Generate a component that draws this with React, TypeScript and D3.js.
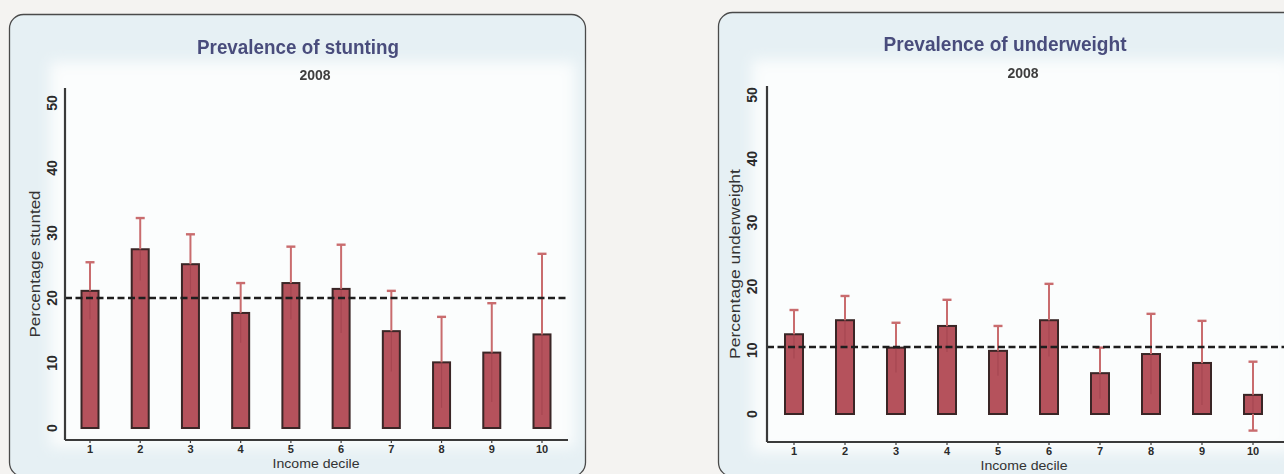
import React from "react";
import * as d3 from "d3";

const deciles = ["1", "2", "3", "4", "5", "6", "7", "8", "9", "10"];
const yTicks = [0, 10, 20, 30, 40, 50];

const stuntingValues = [21.1, 27.5, 25.2, 17.7, 22.3, 21.4, 14.9, 10.1, 11.6, 14.4];
const stuntingUpper = [25.5, 32.3, 29.8, 22.3, 27.9, 28.2, 21.1, 17.1, 19.2, 26.8];
const stuntingLower = [16.7, 22.7, 20.6, 13.1, 16.7, 14.6, 8.7, 3.1, 4.0, 2.0];
const stuntingRef = 20;

const underweightValues = [12.5, 14.7, 10.4, 13.8, 9.9, 14.7, 6.4, 9.4, 8.0, 3.0];
const underweightUpper = [16.3, 18.5, 14.3, 17.9, 13.8, 20.4, 10.4, 15.7, 14.6, 8.2];
const underweightLower = [8.7, 10.9, 6.5, 9.7, 6.0, 9.0, 2.4, 3.1, 1.4, -2.6];
const underweightRef = 10.5;

type PanelProps = {
  title: string;
  subtitle: string;
  yLabel: string;
  values: number[];
  upper: number[];
  lower: number[];
  refValue: number;
  box: { x: number; y: number; w: number; h: number };
  axisX: number;
  axisRight: number;
  axisTop: number;
  axisBottom: number;
  y0: number;
  y50: number;
  xFirst: number;
  xLast: number;
  barW: number;
  titleX: number;
  titleY: number;
  subX: number;
  subY: number;
  tickLabelX: number;
  yLabelX: number;
  yLabelLen: number;
  xLabelX: number;
  xLabelY: number;
  xTickY: number;
  titleLen: number;
  innerRect: { x: number; y: number; w: number; h: number };
  id: string;
};

const FONT = "'Liberation Sans', Arial, sans-serif";

function Panel(p: PanelProps) {
  const y = d3.scaleLinear().domain([0, 50]).range([p.y0, p.y50]);
  const x = d3.scalePoint<string>().domain(deciles).range([p.xFirst, p.xLast]);
  const midY = (p.axisTop + p.axisBottom) / 2;
  const cap = 4.5;
  return (
    <g>
      <rect x={p.box.x} y={p.box.y} width={p.box.w} height={p.box.h} rx={14} ry={14}
        fill="#e6f0f4" stroke="#4a4a4a" strokeWidth={1.3} />
      <defs>
        <filter id={`blur-${p.id}`} x="-10%" y="-10%" width="120%" height="120%">
          <feGaussianBlur stdDeviation="7" />
        </filter>
      </defs>
      <rect x={p.innerRect.x} y={p.innerRect.y} width={p.innerRect.w} height={p.innerRect.h}
        fill="#fbfdfd" filter={`url(#blur-${p.id})`} />
      <text x={p.titleX} y={p.titleY} textAnchor="middle" fontFamily={FONT}
        fontSize={20} fontWeight="bold" fill="#3c3f72" textLength={p.titleLen}
        lengthAdjust="spacingAndGlyphs" opacity={0.92}>{p.title}</text>
      <text x={p.subX} y={p.subY} textAnchor="middle" fontFamily={FONT}
        fontSize={14} fontWeight="bold" fill="#2a2a2a" opacity={0.9}>{p.subtitle}</text>

      {yTicks.map((t) => (
        <text key={t} transform={`translate(${p.tickLabelX},${y(t)}) rotate(-90)`} textAnchor="middle"
          dominantBaseline="central" fontFamily={FONT} fontSize={14}
          fontWeight="bold" fill="#2a2a2a">{t}</text>
      ))}
      <text transform={`translate(${p.yLabelX},${midY}) rotate(-90)`} textAnchor="middle"
        dominantBaseline="central" fontFamily={FONT} fontSize={14}
        fill="#333" textLength={p.yLabelLen} lengthAdjust="spacingAndGlyphs">{p.yLabel}</text>

      {p.values.map((v, i) => {
        const cx = x(deciles[i])!;
        const top = y(Math.max(v, 0));
        const bot = y(0);
        return (
          <rect key={i} x={cx - p.barW / 2} y={top} width={p.barW} height={bot - top}
            fill="#b5525c" stroke="#3a2626" strokeWidth={2} />
        );
      })}

      {p.values.map((v, i) => {
        const cx = x(deciles[i])!;
        const yu = y(p.upper[i]);
        const yl = y(p.lower[i]);
        const outsideLow = p.lower[i] < 0;
        return (
          <g key={i}>
            <line x1={cx} x2={cx} y1={y(v)} y2={yu} stroke="#c96c6e" strokeWidth={2} />
            <line x1={cx} x2={cx} y1={y(v)} y2={outsideLow ? y(0) : yl} stroke="#9c3f4a" strokeWidth={1.2} opacity={0.6} />
            <line x1={cx - cap} x2={cx + cap} y1={yu} y2={yu} stroke="#c96c6e" strokeWidth={2.4} />
            {outsideLow && (
              <g>
                <line x1={cx} x2={cx} y1={y(0)} y2={yl} stroke="#c96c6e" strokeWidth={2} />
                <line x1={cx - cap} x2={cx + cap} y1={yl} y2={yl} stroke="#c96c6e" strokeWidth={2.4} />
              </g>
            )}
          </g>
        );
      })}

      <line x1={p.axisX} x2={p.axisRight} y1={y(p.refValue)} y2={y(p.refValue)} stroke="#1e1e1e"
        strokeWidth={2.6} strokeDasharray="7,3.5" />

      <line x1={p.axisX} x2={p.axisX} y1={p.axisTop} y2={p.axisBottom} stroke="#3a3a3a" strokeWidth={2.2} />
      <line x1={p.axisX} x2={p.axisRight} y1={p.axisBottom} y2={p.axisBottom} stroke="#3a3a3a" strokeWidth={2.2} />
      {deciles.map((d) => (
        <g key={d}>
          <line x1={x(d)!} x2={x(d)!} y1={p.axisBottom} y2={p.axisBottom + 3} stroke="#3a3a3a" strokeWidth={1.2} />
          <text x={x(d)!} y={p.xTickY} textAnchor="middle" fontFamily={FONT}
            fontSize={11} fontWeight="bold" fill="#2a2a2a">{d}</text>
        </g>
      ))}
      <text x={p.xLabelX} y={p.xLabelY} textAnchor="middle" fontFamily={FONT}
        fontSize={13} fill="#333" textLength={87} lengthAdjust="spacingAndGlyphs">Income decile</text>
    </g>
  );
}

export default function App() {
  return (
    <svg width={1284} height={474} style={{ position: "fixed", left: 0, top: 0, background: "#f4f3f1" }}>
      <rect x={0} y={0} width={1284} height={474} fill="#f4f3f1" />
      <Panel
        id="a"
        title="Prevalence of stunting"
        subtitle="2008"
        yLabel="Percentage stunted"
        values={stuntingValues}
        upper={stuntingUpper}
        lower={stuntingLower}
        refValue={stuntingRef}
        box={{ x: 9.5, y: 14.5, w: 576, h: 462 }}
        innerRect={{ x: 50, y: 62, w: 525, h: 385 }}
        axisX={65}
        axisRight={568}
        axisTop={88}
        axisBottom={440}
        y0={428}
        y50={103}
        xFirst={90}
        xLast={542}
        barW={17}
        titleX={298}
        titleY={54}
        titleLen={202}
        subX={315}
        subY={80}
        tickLabelX={52}
        yLabelX={35}
        yLabelLen={147}
        xLabelX={316}
        xLabelY={468}
        xTickY={453}
      />
      <Panel
        id="b"
        title="Prevalence of underweight"
        subtitle="2008"
        yLabel="Percentage underweight"
        values={underweightValues}
        upper={underweightUpper}
        lower={underweightLower}
        refValue={underweightRef}
        box={{ x: 718.5, y: 12.5, w: 600, h: 464 }}
        innerRect={{ x: 752, y: 60, w: 540, h: 392 }}
        axisX={767}
        axisRight={1284}
        axisTop={86}
        axisBottom={442}
        y0={414}
        y50={95}
        xFirst={794}
        xLast={1253}
        barW={18}
        titleX={1005}
        titleY={51}
        titleLen={243}
        subX={1023}
        subY={78}
        tickLabelX={752}
        yLabelX={735}
        yLabelLen={190}
        xLabelX={1024}
        xLabelY={470}
        xTickY={455}
      />
    </svg>
  );
}
